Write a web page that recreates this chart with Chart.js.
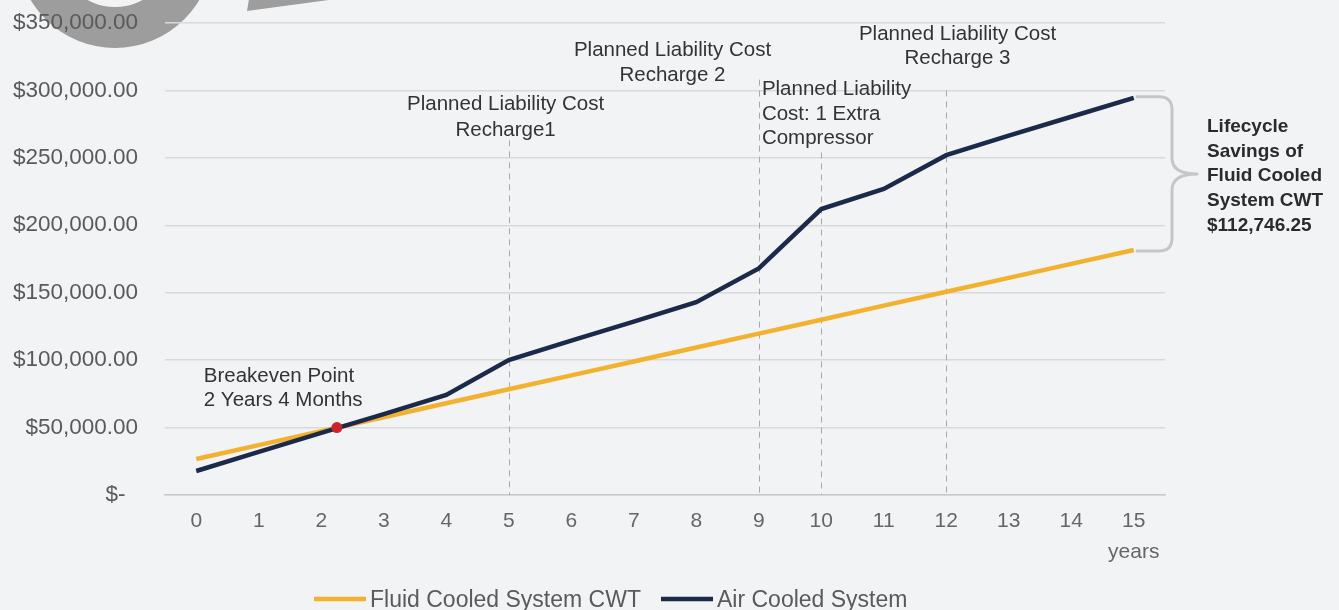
<!DOCTYPE html>
<html><head><meta charset="utf-8">
<script src="https://cdn.jsdelivr.net/npm/chart.js@4/dist/chart.umd.min.js"></script>
<style>html,body{margin:0;padding:0;background:#f1f3f5;overflow:hidden}#wrap{width:1339px;height:610px;position:relative}</style>
</head><body><div id="wrap"><canvas id="c" width="1339" height="610"></canvas></div>
<script>
// ---- data ----
const years = [0,1,2,3,4,5,6,7,8,9,10,11,12,13,14,15];
const fluidCooled = [26700,37000,47400,57700,68000,78400,88700,99000,109400,119700,130000,140400,150700,161000,171400,181700];
const airCooled = [17800,32000,46000,60000,74200,100000,114500,128500,143000,168000,212000,227000,252000,266500,280500,294500];
const breakevenPoint = [{x:2.25, y:50000}];
const seriesLabels = ['Fluid Cooled System CWT','Air Cooled System'];
const yTickValues = [0,50000,100000,150000,200000,250000,300000,350000];
const eventYears = [5,9,10,12];
const savingsText = ['Lifecycle','Savings of','Fluid Cooled','System CWT','$112,746.25'];

const FONT = "'Liberation Sans', Arial, Helvetica, sans-serif";
const YELLOW = '#f2b12e', NAVY = '#1c2a4a';

function fmtMoney(v){
  if (v === 0) return '$-  ';
  return '$' + v.toLocaleString('en-US',{minimumFractionDigits:2,maximumFractionDigits:2});
}

function drawLines(ctx, lines, x, y0, gap, align, font, color){
  ctx.font = font; ctx.fillStyle = color; ctx.textAlign = align; ctx.textBaseline = 'alphabetic';
  lines.forEach((t,i)=>ctx.fillText(t, x, y0 + i*gap));
}

const decor = {
  id:'decor',
  beforeDraw(chart){
    const ctx = chart.ctx; ctx.save();
    ctx.fillStyle = '#f1f3f5'; ctx.fillRect(0,0,chart.width,chart.height);
    ctx.fillStyle = '#9d9d9d';
    ctx.beginPath();
    ctx.arc(115,-50,98,0,Math.PI*2);
    ctx.moveTo(172,-50);
    ctx.arc(115,-50,57,0,Math.PI*2,true);
    ctx.fill('evenodd');
    ctx.beginPath(); ctx.moveTo(249,-1); ctx.lineTo(247,11); ctx.lineTo(336,-1); ctx.closePath(); ctx.fill();
    ctx.restore();
  },
  beforeDatasetsDraw(chart){
    const ctx = chart.ctx, xs = chart.scales.x, ys = chart.scales.y;
    const tops = {5:263000, 9:308000, 10:254000, 12:300000};
    ctx.save();
    ctx.strokeStyle = '#a8a8a8'; ctx.lineWidth = 1; ctx.setLineDash([6,5]);
    eventYears.forEach(yr=>{
      const px = Math.round(xs.getPixelForValue(yr)) + 0.5;
      ctx.beginPath(); ctx.moveTo(px, ys.getPixelForValue(tops[yr])); ctx.lineTo(px, ys.getPixelForValue(0)); ctx.stroke();
    });
    ctx.restore();
  },
  afterDraw(chart){
    const ctx = chart.ctx, xs = chart.scales.x, ys = chart.scales.y;
    ctx.save();
    const f20 = '20.5px ' + FONT, col = '#333333';
    drawLines(ctx, ['Planned Liability Cost','Recharge1'], xs.getPixelForValue(4.95), 110, 26, 'center', f20, col);
    drawLines(ctx, ['Planned Liability Cost','Recharge 2'], xs.getPixelForValue(7.62), 56, 25, 'center', f20, col);
    drawLines(ctx, ['Planned Liability','Cost: 1 Extra','Compressor'], xs.getPixelForValue(9.05), 95, 24.5, 'left', f20, col);
    drawLines(ctx, ['Planned Liability Cost','Recharge 3'], xs.getPixelForValue(12.18), 40, 24, 'center', f20, col);
    drawLines(ctx, ['Breakeven Point','2 Years 4 Months'], xs.getPixelForValue(0.12), 382, 24, 'left', f20, col);
    drawLines(ctx, savingsText, 1207, 132, 24.7, 'left', 'bold 19px ' + FONT, '#2b2b2b');
    ctx.font = '21px ' + FONT; ctx.fillStyle = '#666'; ctx.textAlign = 'center';
    ctx.fillText('years', xs.getPixelForValue(15), 558);
    // brace
    const xr = xs.getPixelForValue(15);
    const yt = ys.getPixelForValue(airCooled[15]) - 1, yb = ys.getPixelForValue(fluidCooled[15]) + 1;
    const bx = 1172, tip = 1197, mid = (yt+yb)/2, r = 13;
    ctx.strokeStyle = '#c6c6c6'; ctx.lineWidth = 3; ctx.lineJoin = 'round';
    ctx.beginPath();
    ctx.moveTo(xr+2, yt); ctx.lineTo(bx-r, yt); ctx.quadraticCurveTo(bx, yt, bx, yt+r);
    ctx.lineTo(bx, mid-16); ctx.quadraticCurveTo(bx, mid, tip, mid);
    ctx.quadraticCurveTo(bx, mid, bx, mid+16);
    ctx.lineTo(bx, yb-r); ctx.quadraticCurveTo(bx, yb, bx-r, yb); ctx.lineTo(xr+2, yb);
    ctx.stroke();
    // legend
    const items = [{c:YELLOW, x:314, t:seriesLabels[0]}, {c:NAVY, x:661, t:seriesLabels[1]}];
    ctx.font = '23px ' + FONT; ctx.textAlign = 'left';
    items.forEach(it=>{
      ctx.strokeStyle = it.c; ctx.lineWidth = 4.5; ctx.lineCap = 'butt';
      ctx.beginPath(); ctx.moveTo(it.x, 599); ctx.lineTo(it.x+52, 599); ctx.stroke();
      ctx.fillStyle = '#5a5a5a';
      ctx.fillText(it.t, it.x+56, 607);
    });
    ctx.restore();
  }
};

const mkPts = arr => years.map((yr,i)=>({x:yr, y:arr[i]}));

new Chart(document.getElementById('c'), {
  type:'line',
  data:{ datasets:[
    {label:seriesLabels[0], data:mkPts(fluidCooled), borderColor:YELLOW, backgroundColor:YELLOW, borderWidth:4.5, pointRadius:0, tension:0, order:2},
    {label:seriesLabels[1], data:mkPts(airCooled), borderColor:NAVY, backgroundColor:NAVY, borderWidth:4.5, pointRadius:0, tension:0, order:1},
    {label:'Breakeven', type:'scatter', data:breakevenPoint, backgroundColor:'#cc2229', borderColor:'#cc2229', pointRadius:5.5, borderWidth:0, order:0}
  ]},
  options:{
    responsive:false, animation:false, devicePixelRatio:1,
    layout:{padding:{top:23, right:174, left:0, bottom:0}},
    plugins:{legend:{display:false}, tooltip:{enabled:false}},
    scales:{
      x:{type:'linear', min:-0.5, max:15.5,
        afterBuildTicks(s){ s.ticks = years.map(v=>({value:v})); },
        grid:{display:false, drawTicks:false},
        border:{display:true, color:'#c9c9c9', width:1.5},
        ticks:{padding:14, color:'#666', font:{family:FONT, size:21}, callback:v=>String(v)},
        afterFit(s){ s.height = 115; s.paddingLeft = 0; s.paddingRight = 0; }
      },
      y:{min:0, max:350000,
        afterBuildTicks(s){ s.ticks = yTickValues.map(v=>({value:v})); },
        ticks:{padding:27, color:'#5a5a5a', font:{family:FONT, size:22.5}, callback:v=>fmtMoney(v)},
        grid:{color:'#d9d9d9', lineWidth:1.5, drawTicks:false},
        border:{display:false},
        afterFit(s){ s.width = 165; s.paddingTop = 0; s.paddingBottom = 0; }
      }
    }
  },
  plugins:[decor]
});
</script></body></html>
